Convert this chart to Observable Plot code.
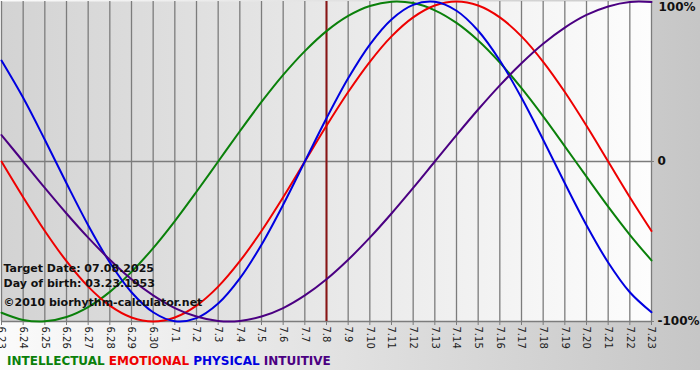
<!DOCTYPE html>
<html><head><meta charset="utf-8">
<script src="https://cdn.jsdelivr.net/npm/d3@7"></script>
<script src="https://cdn.jsdelivr.net/npm/@observablehq/plot@0.6"></script>
<style>
html,body{margin:0;padding:0;background:#fff;}
#wrap{position:relative;width:700px;height:380px;overflow:hidden;font-family:"DejaVu Sans",Verdana,sans-serif;
  background:linear-gradient(to right,#fbfbfb,#c6c6c6) no-repeat;background-size:700px 370px;}
#chart svg{display:block;}
#legend{height:28px;padding-left:7px;line-height:18px;font-weight:bold;font-size:12px;white-space:pre;}
</style></head><body>
<div id="wrap"><div id="chart"></div><div id="legend"></div></div>
<script>
const days = ["6.23","6.24","6.25","6.26","6.27","6.28","6.29","6.30",
  "7.1","7.2","7.3","7.4","7.5","7.6","7.7","7.8","7.9","7.10","7.11","7.12","7.13",
  "7.14","7.15","7.16","7.17","7.18","7.19","7.20","7.21","7.22","7.23"];
const intellectual = [-0.945,-0.990,-0.999,-0.972,-0.910,-0.815,-0.690,-0.541,-0.372,-0.189,0,
  0.189,0.372,0.541,0.690,0.815,0.910,0.972,0.999,0.990,0.945,0.866,0.756,0.618,0.458,0.282,0.095,
  -0.095,-0.282,-0.458,-0.618];
const emotional = [0,-0.223,-0.434,-0.623,-0.782,-0.901,-0.975,-1,-0.975,-0.901,-0.782,-0.623,-0.434,-0.223,0,
  0.223,0.434,0.623,0.782,0.901,0.975,1,0.975,0.901,0.782,0.623,0.434,0.223,0,-0.223,-0.434];
const physical = [0.631,0.398,0.136,-0.136,-0.398,-0.631,-0.817,-0.942,-0.998,-0.979,-0.888,-0.731,-0.520,-0.270,0,
  0.270,0.520,0.731,0.888,0.979,0.998,0.942,0.817,0.631,0.398,0.136,-0.136,-0.398,-0.631,-0.817,-0.942];
const intuitive = [0.165,0,-0.165,-0.325,-0.476,-0.614,-0.736,-0.837,-0.916,-0.969,-0.997,-0.997,-0.969,-0.916,-0.837,
  -0.736,-0.614,-0.476,-0.325,-0.165,0,0.165,0.325,0.476,0.614,0.736,0.837,0.916,0.969,0.997,0.997];
const seriesNames = ["INTELLECTUAL","EMOTIONAL","PHYSICAL","INTUITIVE"];
const seriesColors = ["#0a800a","#ee0000","#0000e0","#4b0082"];
const targetDay = "7.8";
const yTicks = [1,0,-1];
const yTickLabels = ["100%","0","-100%"];
const infoLines = ["Target Date: 07.08.2025","Day of birth: 03.23.1953","©2010 biorhythm-calculator.net"];

const seriesValues = [intellectual, emotional, physical, intuitive];
const idx = days.map((d, i) => i);
const rows = [];
seriesNames.forEach((name, s) => seriesValues[s].forEach((v, i) => rows.push({series: name, i, v})));
const labelOf = t => yTickLabels[yTicks.indexOf(t)];
const grid = "#7c7c7c";

const chart = Plot.plot({
  width: 700, height: 352,
  marginLeft: 1, marginRight: 49, marginTop: 1, marginBottom: 31,
  style: {background: "transparent", fontFamily: "'DejaVu Sans', Verdana, sans-serif"},
  x: {type: "linear", domain: [0, days.length - 1], inset: 0},
  y: {domain: [-1, 1], inset: 0},
  color: {domain: seriesNames, range: seriesColors},
  marks: [
    Plot.frame({fill: "url(#plotGrad)", stroke: "none"}),
    Plot.ruleX(idx, {stroke: grid, strokeWidth: 1.3}),
    Plot.ruleY([0, -1], {stroke: grid, strokeWidth: 1.3}),
    Plot.axisX({ticks: idx, tickFormat: i => days[i], tickRotate: 90, tickSize: 4, tickPadding: 1,
      fontSize: 10, stroke: grid, fill: "#222", label: null}),
    Plot.axisY({anchor: "right", ticks: [0, -1], tickSize: 2, tickPadding: 4, tickFormat: labelOf,
      fontSize: 12, fontWeight: "bold", fill: "#111", stroke: grid, label: null}),
    Plot.axisY({anchor: "right", ticks: [1], tickSize: 0, tickPadding: 7, dy: 6, tickFormat: labelOf,
      fontSize: 12, fontWeight: "bold", fill: "#111", label: null}),
    Plot.ruleX([days.indexOf(targetDay)], {stroke: "#8a1414", strokeWidth: 2}),
    Plot.line(rows, {x: "i", y: "v", z: "series", stroke: "series", strokeWidth: 2, curve: "catmull-rom"}),
    Plot.text([infoLines[0]], {frameAnchor: "bottom-left", dx: 2, dy: -50, textAnchor: "start", fontSize: 11, fontWeight: "bold", fill: "#111"}),
    Plot.text([infoLines[1]], {frameAnchor: "bottom-left", dx: 2, dy: -35, textAnchor: "start", fontSize: 11, fontWeight: "bold", fill: "#111"}),
    Plot.text([infoLines[2]], {frameAnchor: "bottom-left", dx: 2, dy: -16, textAnchor: "start", fontSize: 11, fontWeight: "bold", fill: "#111"})
  ]
});
const ns = "http://www.w3.org/2000/svg";
const defs = document.createElementNS(ns, "defs");
defs.innerHTML = '<linearGradient id="plotGrad" x1="0" x2="1" y1="0" y2="0"><stop offset="0" stop-color="#d3d3d3"/><stop offset="1" stop-color="#fdfdfd"/></linearGradient>';
chart.insertBefore(defs, chart.firstChild);
document.getElementById("chart").appendChild(chart);

const legend = document.getElementById("legend");
seriesNames.forEach((n, i) => {
  const s = document.createElement("span");
  s.textContent = n + (i < seriesNames.length - 1 ? " " : "");
  s.style.color = seriesColors[i];
  legend.appendChild(s);
});
</script>
</body></html>
